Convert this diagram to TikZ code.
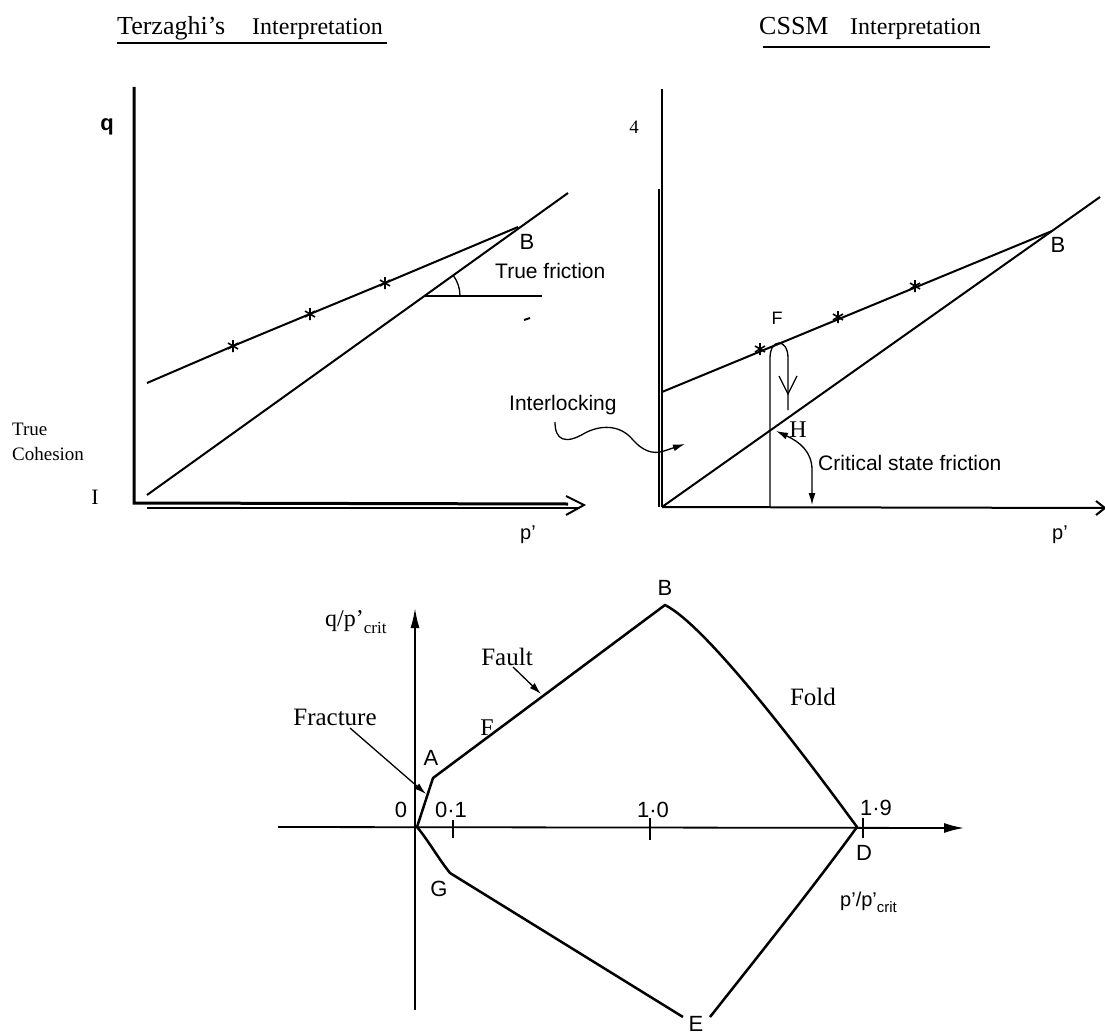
\documentclass[tikz,border=0pt]{standalone}
\usepackage{fontspec}
\setmainfont{Liberation Serif}
\setsansfont{Liberation Sans}
\usetikzlibrary{arrows.meta}
\begin{document}
\begin{tikzpicture}[x=1pt,y=-1pt,
  serif/.style={inner sep=0pt, font=\fontsize{#1}{#1}\selectfont},
  sans/.style={inner sep=0pt, font=\fontsize{#1}{#1}\selectfont\sffamily},
  axis/.style={line width=3pt},
  curve/.style={line width=2pt, line join=round},
  thin/.style={line width=1.3pt},
  poly/.style={line width=2.5pt, line join=round},
  tip/.style={-{Latex[length=12pt,width=7pt]}},
  xmark/.pic={\draw[line width=1.6pt] (-5,-3)--(5,3) (-5,3)--(5,-3) (0,-6)--(0,6);}
]
\useasboundingbox (0,0) rectangle (1105,1035);

% ---------- titles ----------
\node[serif=26, anchor=base west] (t1a) at (117,35) {Terzaghi's};
\node[serif=24, anchor=base west] (t1b) at (252,35) {Interpretation};
\draw[line width=2.5pt] (117,43) -- (387,43);
\node[serif=26, anchor=base west] (t2a) at (759,35) {CSSM};
\node[serif=24, anchor=base west] (t2b) at (850,35) {Interpretation};
\draw[line width=2.5pt] (763,47) -- (990,47);

% ---------- left panel ----------
\coordinate (LO) at (134,503);
\coordinate (LT) at (134,87);
\coordinate (LX) at (584,505);
\draw[axis] (LT) -- (LO) -- (568,504);
\draw[line width=1.2pt] (147,508) -- (578,508);
\draw[line width=2pt] (566,496) -- (LX) -- (566,515);
\node[sans=22, font=\fontsize{22}{22}\selectfont\sffamily\bfseries] (lq) at (107,127) {q};
\node[serif=19, anchor=base west] (ltrue) at (12,435) {True};
\node[serif=19, anchor=base west] (lcoh) at (12,460) {Cohesion};
\node[serif=22] (lI) at (95,497) {I};
\node[sans=20] (lp) at (528,535) {p’};

\coordinate (LB) at (518,227);
\coordinate (LU0) at (147,383);
\coordinate (LL0) at (147,495);
\coordinate (LL1) at (568,193);
\draw[curve] (LU0) -- (233,346) -- (310,314) -- (385,283) -- (LB);
\draw[curve] (LL0) -- (LL1);
\pic at (233,346) {xmark};
\pic at (310,314) {xmark};
\pic at (385,283) {xmark};
\coordinate (LA) at (425,296);
\draw[curve] (LA) -- (542,296);
\draw[thin] (460,296) arc[start angle=0, end angle=-35.6, radius=35];
\draw[line width=2pt] (524,320) -- (530,318);
\node[sans=22] (lBl) at (527,242) {B};
\node[sans=21, anchor=west] (ltf) at (495,271) {True friction};

% ---------- right panel ----------
\coordinate (RO) at (662,507);
\coordinate (RT) at (662,89);
\draw[line width=2.2pt] (RT) -- (RO);
\draw[line width=2pt] (659,189) -- (659,507);
\draw[line width=2pt] (RO) -- (1104,508);
\draw[line width=2pt] (1096,501) -- (1105,508) -- (1096,515);
\node[serif=19] (r4) at (634,127) {4};
\node[sans=20] (rp) at (1060,535) {p’};

\coordinate (RB) at (1052,231);
\coordinate (RU0) at (662,392);
\coordinate (RL1) at (1100,197);
\coordinate (RF) at (770,347);
\coordinate (RH) at (770,430);
\draw[curve] (RU0) -- (RB);
\draw[curve] (RO) -- (RL1);
\pic at (760,349) {xmark};
\pic at (838,317) {xmark};
\pic at (915,286) {xmark};
\draw[thin] (770,507) -- (770,358) .. controls (770,338) and (788,338) .. (788,358) -- (788,410);
\draw[thin] (779,376) -- (788,394) -- (797,376);
\node[sans=18] (rFl) at (777,318) {F};
\node[sans=22] (rBl) at (1058,245) {B};
\node[serif=24] (rHl) at (798,430) {H};
\node[sans=21, anchor=west] (rcsf) at (818,463) {Critical state friction};
\draw[thin, {Latex[length=12pt,width=7pt]}-{Latex[length=12pt,width=7pt]}] (776,431) .. controls (800,442) and (812,452) .. (812,470) -- (812,505);
\node[sans=21, anchor=west] (rint) at (509,405) {Interlocking};
\draw[thin, tip] (555,422) .. controls (555,440) and (565,445) .. (585,433) .. controls (600,425) and (620,424) .. (633,440) .. controls (642,450) and (652,455) .. (664,451) -- (685,444);

% ---------- bottom diagram ----------
\coordinate (O) at (415,827);
\draw[line width=1.8pt, -{Latex[length=20pt,width=9pt]}] (415,1010) -- (415,608);
\draw[line width=1.8pt, -{Latex[length=20pt,width=10pt]}] (278,827) -- (964,828);
\draw[line width=1.6pt] (453,820) -- (453,838);
\draw[line width=1.6pt] (650,818) -- (650,840);
\draw[line width=1.6pt] (863,818) -- (863,838);

\coordinate (A) at (433,778);
\coordinate (B) at (665,605);
\coordinate (D) at (857,827);
\coordinate (G) at (450,873);
\coordinate (E1) at (683,1017);
\coordinate (E2) at (710,1017);
\draw[poly] (417,827) -- (A) -- (B) .. controls (705,625) and (797,745) .. (D) .. controls (815,885) and (755,960) .. (E2);
\draw[poly] (417,827) .. controls (428,840) and (438,858) .. (G) -- (E1);

\node[serif=24, anchor=west] (bq) at (325,622) {q/p’\raisebox{-0.3em}{\fontsize{17}{17}\selectfont crit}};
\node[sans=20, anchor=west] (bp) at (840,902) {p’/p’\raisebox{-0.3em}{\fontsize{15}{15}\selectfont crit}};
\node[sans=22] (bB) at (665,588) {B};
\node[sans=22] (bA) at (431,758) {A};
\node[serif=24] (bF) at (487,728) {F};
\node[serif=25] (bfault) at (507,657) {Fault};
\node[serif=25] (bfrac) at (335,717) {Fracture};
\node[serif=25] (bfold) at (813,697) {Fold};
\node[sans=22] (b0) at (401,810) {0};
\node[sans=22] (b01) at (451,810) {0·1};
\node[sans=22] (b10) at (653,810) {1·0};
\node[sans=22] (b19) at (876,808) {1·9};
\node[sans=22] (bD) at (864,853) {D};
\node[sans=22] (bG) at (439,889) {G};
\node[sans=22] (bE) at (696,1024) {E};
\draw[line width=1.3pt, tip] (513,667) -- (541,694);
\draw[thin, tip] (350,728) -- (426,794);
\end{tikzpicture}
\end{document}
